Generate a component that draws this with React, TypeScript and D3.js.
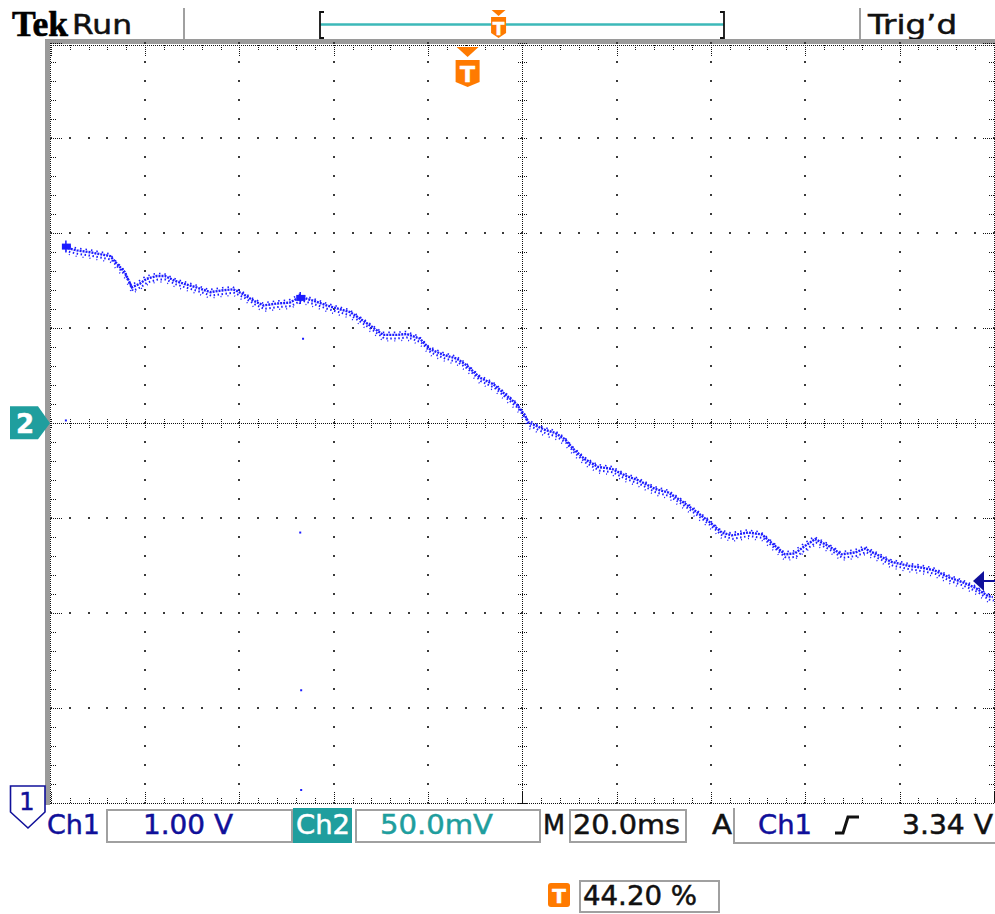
import React from 'react';
import * as d3 from 'd3';

// Ch1 trace: time (ms from left edge of screen, 20 ms/div) and volts (1.00 V/div)
const traceTime = [
  3.0, 5.5, 8.3, 12.6, 14.0, 15.7, 17.2, 18.9, 20.3, 22.5, 24.2, 26.3, 28.1, 30.9, 33.8, 36.6, 38.7, 40.8,
  43.0, 45.1, 47.9, 50.7, 52.9, 55.7, 58.5, 61.3, 63.5, 65.6, 67.7, 70.5, 73.4, 75.5, 78.3, 80.4, 83.3,
  86.1, 88.2, 91.0, 93.9, 96.7, 98.8, 100.6, 101.3, 104.8, 106.9, 109.1, 110.8, 113.3, 116.1, 119.0,
  121.8, 124.6, 128.1, 131.0, 133.8, 136.6, 139.5, 142.3, 144.4, 147.9, 150.8, 153.6, 155.7, 157.8,
  160.0, 162.1, 164.9, 167.7, 170.6, 172.7, 175.5, 178.3, 181.9, 184.7, 187.5, 190.4, 193.2, 196.0,
  198.8, 199.8,
];
const traceVolt = [
  6.84, 6.81, 6.79, 6.75, 6.67, 6.58, 6.42, 6.46, 6.51, 6.54, 6.54, 6.49, 6.46, 6.42, 6.37, 6.39, 6.40, 6.35,
  6.28, 6.23, 6.25, 6.26, 6.32, 6.28, 6.23, 6.19, 6.16, 6.09, 6.02, 5.92, 5.92, 5.93, 5.88, 5.77, 5.71,
  5.67, 5.60, 5.47, 5.40, 5.28, 5.19, 5.07, 5.00, 4.92, 4.89, 4.82, 4.72, 4.61, 4.53, 4.51,
  4.44, 4.39, 4.30, 4.26, 4.17, 4.07, 3.96, 3.84, 3.81, 3.84, 3.82, 3.70, 3.61, 3.62,
  3.70, 3.77, 3.70, 3.61, 3.63, 3.67, 3.60, 3.53, 3.49, 3.47, 3.44, 3.37, 3.32, 3.26,
  3.17, 3.16,
];
// isolated glitch samples
const strayTime = [53.5, 3.2, 52.9, 53.1, 53.1];
const strayVolt = [5.89, 5.03, 3.85, 2.19, 1.14];
// dense burst spots
const burstTime = [52.9, 3.2];
const burstVolt = [6.32, 6.86];

// screen / readout values
const brandLabel = 'Tek';
const stateLabel = 'Run';
const trigStateLabel = 'Trig\u2019d';
const ch1Label = 'Ch1';
const ch1ScaleLabel = '1.00 V';
const ch2Label = 'Ch2';
const ch2ScaleLabel = '50.0mV';
const timebaseLabel = '20.0ms';
const trigSourceLabel = 'Ch1';
const trigLevel = 3.34;
const trigLevelLabel = '3.34 V';
const trigPosPercent = 44.2;
const trigPosLabel = '44.20 %';
const ch2Reference = 5; // ch2 ground sits at the screen centre (in ch1 volts)

const timeDomain = [0, 200];
const voltDomain = [1, 9];

const NAVY = '#10109a';
const BLUE = '#1c1cff';
const TEAL = '#1f9e9e';
const TEAL_LIGHT = '#3cb9b9';
const ORANGE = '#ff7a00';
const GRAY = '#a0a0a0';

export default function App() {
  const X0 = 50.8, X1 = 993.8, Y0 = 43.3, Y1 = 803.3;
  const x = d3.scaleLinear().domain(timeDomain).range([X0, X1]);
  const y = d3.scaleLinear().domain(voltDomain).range([Y1, Y0]);
  const rec = d3.scaleLinear().domain([0, 100]).range([320, 724]);

  const majorT = d3.range(0, 11).map((i) => i * 20);
  const majorV = d3.range(0, 9).map((i) => 1 + i);
  const minorT = d3.range(0, 51).map((i) => i * 4);
  const minorV = d3.range(0, 41).map((i) => 1 + i * 0.2);

  const dots: React.ReactNode[] = [];
  const dot = (k: string, px: number, py: number) => (
    <rect key={k} x={Math.round(px) - 1} y={Math.round(py) - 1} width={2} height={2} fill="#3a3a3a" shapeRendering="crispEdges" />
  );
  majorT.forEach((t, i) => {
    if (i === 0 || i === 10 || i === 5) return;
    minorV.forEach((v, j) => dots.push(dot(`vx${i}-${j}`, x(t), y(v))));
  });
  majorV.forEach((v, i) => {
    if (i === 0 || i === 8 || i === 4) return;
    minorT.forEach((t, j) => dots.push(dot(`hy${i}-${j}`, x(t), y(v))));
  });

  // edge + centre ticks
  const ticks: React.ReactNode[] = [];
  const cx = x(100), cy = y(5);
  const tk = { stroke: '#111', strokeDasharray: '1 1', shapeRendering: 'crispEdges' };
  minorT.forEach((t, j) => {
    const xx = Math.round(x(t)) + 0.5;
    const major = j % 5 === 0;
    const len = major ? 12 : 6;
    ticks.push(<line key={`tt${j}`} x1={xx} x2={xx} y1={Y0 + 2} y2={Y0 + 2 + len} {...tk} />);
    ticks.push(<line key={`tb${j}`} x1={xx} x2={xx} y1={Y1} y2={Y1 - len} {...tk} />);
    ticks.push(<line key={`tc${j}`} x1={xx} x2={xx} y1={cy - 4} y2={cy + 5} {...tk} />);
  });
  minorV.forEach((v, j) => {
    const yy = Math.round(y(v)) + 0.5;
    const major = j % 5 === 0;
    const len = major ? 12 : 6;
    ticks.push(<line key={`tl${j}`} y1={yy} y2={yy} x1={X0} x2={X0 + len} {...tk} />);
    ticks.push(<line key={`tr${j}`} y1={yy} y2={yy} x1={X1} x2={X1 - len} {...tk} />);
    ticks.push(<line key={`tcv${j}`} y1={yy} y2={yy} x1={cx - 4} x2={cx + 5} {...tk} />);
  });

  const pts: [number, number][] = traceTime.map((t, i) => [x(t), y(traceVolt[i])]);
  const line = d3.line();
  const tracePath = line(pts) || '';

  const trigX = x((trigPosPercent / 100) * (timeDomain[1] - timeDomain[0]));
  const recT = rec(trigPosPercent);
  const trigY = y(trigLevel);
  const ch2Y = y(ch2Reference);

  const shield = (cxx: number, top: number, w: number, h: number) =>
    `M${cxx - w / 2},${top} H${cxx + w / 2} V${top + h - 5} L${cxx},${top + h} L${cxx - w / 2},${top + h - 5} Z`;

  const sans = '"DejaVu Sans", Verdana, sans-serif';
  const T = (props: any) => (
    <text fontFamily={sans} lengthAdjust="spacingAndGlyphs" stroke={props.fill || '#111'} strokeWidth={0.5} {...props} />
  );

  return (
    <svg width={995} height={914} style={{ position: 'absolute', left: 0, top: 0, background: '#fff' }}>
      <rect x={0} y={0} width={995} height={914} fill="#fff" />

      {/* header */}
      <text x={12} y={36} fontFamily='"Liberation Serif", "DejaVu Serif", serif' fontWeight="bold" fontSize={36} textLength={56} lengthAdjust="spacingAndGlyphs" stroke="#000" strokeWidth={0.6}>{brandLabel}</text>
      <T x={72} y={34} fontSize={26} textLength={60} fill="#111">{stateLabel}</T>
      <line x1={184} x2={184} y1={8} y2={42} stroke={GRAY} strokeWidth={2} />
      <line x1={860} x2={860} y1={8} y2={42} stroke={GRAY} strokeWidth={2} />
      <T x={868} y={34} fontSize={26} textLength={89} fill="#111">{trigStateLabel}</T>

      {/* record bar */}
      <line x1={rec(0)} x2={rec(100)} y1={24.5} y2={24.5} stroke={TEAL_LIGHT} strokeWidth={2.5} />
      <path d={`M${rec(0) + 4},12 H${rec(0)} V38 H${rec(0) + 4}`} fill="none" stroke="#111" strokeWidth={1.8} />
      <path d={`M${rec(100) - 4},12 H${rec(100)} V38 H${rec(100) - 4}`} fill="none" stroke="#111" strokeWidth={1.8} />
      <path d={`M${recT - 7},10 H${recT + 7} L${recT},16 Z`} fill={ORANGE} />
      <path d={shield(recT, 17, 15, 21)} fill={ORANGE} />
      <T x={recT} y={35} fontSize={17} fontWeight="bold" fill="#fff" textAnchor="middle">T</T>

      {/* graticule frame */}
      <rect x={45} y={39} width={950} height={5} fill="#9a9a9a" />
      <rect x={45} y={39} width={5} height={766} fill="#9a9a9a" />
      <line x1={X0} x2={995} y1={Y0 + 2.5} y2={Y0 + 2.5} {...tk} />
      <line x1={X0 - 0.5} x2={X0 - 0.5} y1={Y0} y2={Y1 + 1} {...tk} />
      <line x1={X0} x2={995} y1={Y1 + 0.5} y2={Y1 + 0.5} {...tk} />
      <line x1={X1 + 0.5} x2={X1 + 0.5} y1={Y0} y2={Y1} {...tk} />
      {/* centre crosshair */}
      <line x1={X0} x2={X1} y1={Math.round(cy) + 0.5} y2={Math.round(cy) + 0.5} {...tk} />
      <line x1={Math.round(cx) + 0.5} x2={Math.round(cx) + 0.5} y1={Y0} y2={Y1} {...tk} />
      {dots}
      {ticks}

      {/* trigger position marker */}
      <path d={`M${trigX - 11},47 H${trigX + 11} L${trigX},57 Z`} fill={ORANGE} />
      <path d={shield(trigX, 60, 24, 27)} fill={ORANGE} />
      <T x={trigX} y={82} fontSize={22} fontWeight="bold" fill="#fff" textAnchor="middle">T</T>

      {/* trace */}
      <g>
        <path d={tracePath} fill="none" stroke={BLUE} strokeWidth={2.4} strokeDasharray="2 1" transform="translate(0,-1)" />
        <path d={tracePath} fill="none" stroke={BLUE} strokeWidth={2} strokeDasharray="1.5 2.5" strokeDashoffset={1} transform="translate(1,2.5)" />
        <path d={tracePath} fill="none" stroke={BLUE} strokeWidth={1.6} strokeDasharray="1.5 4" transform="translate(-1,-3.5)" />
        <path d={tracePath} fill="none" stroke={BLUE} strokeWidth={1.4} strokeDasharray="1 6" strokeDashoffset={3} transform="translate(0,5)" />
        {strayTime.map((t, i) => (
          <rect key={`s${i}`} x={x(t) - 1} y={y(strayVolt[i]) - 1} width={2} height={2} fill={BLUE} />
        ))}
        {burstTime.map((t, i) => (
          <g key={`b${i}`}>
            <rect x={x(t) - 4} y={y(burstVolt[i]) - 3} width={9} height={6} fill={BLUE} />
            <line x1={x(t)} x2={x(t)} y1={y(burstVolt[i]) - 6} y2={y(burstVolt[i]) + 6} stroke={BLUE} strokeWidth={1.5} />
          </g>
        ))}
      </g>

      {/* ch2 reference marker */}
      <path d={`M10,${ch2Y - 17} H38 L50,${ch2Y} L38,${ch2Y + 16} H10 Z`} fill={TEAL} />
      <T x={25} y={ch2Y + 10} fontSize={26} fontWeight="bold" fill="#fff" textAnchor="middle">2</T>

      {/* trigger level marker */}
      <path d={`M973,${trigY} L984,${trigY - 10} L984,${trigY + 10} Z`} fill={NAVY} />
      <line x1={984} x2={995} y1={trigY} y2={trigY} stroke={NAVY} strokeWidth={2} />

      {/* ch1 reference marker (off-screen below) */}
      <path d="M10.5,786 H45 V812 L28,828 L10.5,812 Z" fill="#fff" stroke={NAVY} strokeWidth={1.6} />
      <T x={27} y={810} fontSize={24} fill={NAVY} textAnchor="middle">1</T>

      {/* readout row */}
      <T x={47} y={834} fontSize={27} fill={NAVY} textLength={53}>{ch1Label}</T>
      <rect x={107} y={810} width={185} height={32} fill="#fff" stroke={GRAY} strokeWidth={2} />
      <T x={143} y={834} fontSize={27} fill={NAVY} textLength={90}>{ch1ScaleLabel}</T>
      <rect x={293} y={808} width={59} height={35} fill={TEAL} />
      <T x={296} y={834} fontSize={27} fill="#fff" textLength={54}>{ch2Label}</T>
      <rect x={356} y={810} width={184} height={32} fill="#fff" stroke={GRAY} strokeWidth={2} />
      <T x={380} y={834} fontSize={27} fill={TEAL} textLength={113}>{ch2ScaleLabel}</T>
      <T x={543} y={834} fontSize={27} fill="#111" textLength={22}>M</T>
      <rect x={570} y={810} width={116} height={32} fill="#fff" stroke={GRAY} strokeWidth={2} />
      <T x={573} y={834} fontSize={27} fill="#111" textLength={107}>{timebaseLabel}</T>
      <T x={712} y={834} fontSize={27} fill="#111" textLength={20}>A</T>
      <path d="M734,808 V843 H995" fill="none" stroke={GRAY} strokeWidth={2} />
      <T x={758} y={834} fontSize={27} fill={NAVY} textLength={54}>{trigSourceLabel}</T>
      <path d="M835,833 H843 L848,817 H859" fill="none" stroke="#111" strokeWidth={3} />
      <T x={902} y={834} fontSize={27} fill="#111" textLength={91}>{trigLevelLabel}</T>

      {/* trigger position readout */}
      <rect x={548} y={883} width={22} height={24} rx={3} fill={ORANGE} />
      <T x={559} y={903} fontSize={20} fontWeight="bold" fill="#fff" textAnchor="middle">T</T>
      <rect x={580} y={881} width={139} height={31} fill="#fff" stroke={GRAY} strokeWidth={2} />
      <T x={583} y={905} fontSize={27} fill="#111" textLength={114}>{trigPosLabel}</T>
    </svg>
  );
}
